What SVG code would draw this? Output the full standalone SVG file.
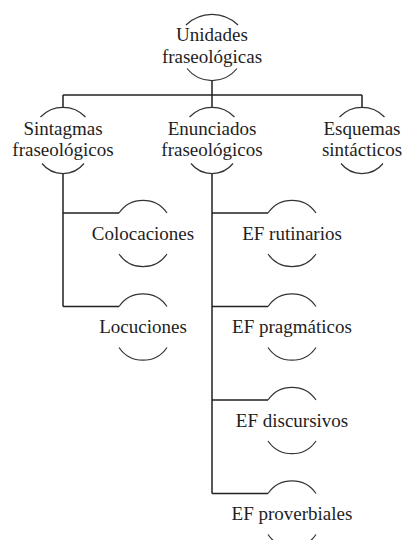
<svg xmlns="http://www.w3.org/2000/svg" width="403" height="540" viewBox="0 0 403 540">
<style>
.arc{fill:none;stroke:#333;stroke-width:1.2}
.ln{fill:none;stroke:#222;stroke-width:1.5}
text{font-family:"Liberation Serif","DejaVu Serif",serif;font-size:19px;fill:#1e1e1e;text-anchor:middle}
</style>
<rect width="403" height="540" fill="#fff"/>
<g id="connectors">
<path class="ln" d="M212 80.5V95M63 95H362M63 95V107.3M212 95V107.3M362 95V107.3"/>
<path class="ln" d="M63 173.5V306.5M63 213H119M63 306.5H119"/>
<path class="ln" d="M212 173.5V493.5M212 213H268M212 306.5H268M212 400H268M212 493.5H268"/>
</g>
<g id="n-unidades">
<path class="arc" d="M186 25A37 37 0 0 1 238 25M187 68.5A32 32 0 0 0 237 68.5"/>
<text x="212" y="41">Unidades</text><text x="212" y="62.7">fraseológicas</text>
</g>
<g id="n-sintagmas">
<path class="arc" d="M40.5 117A31 31 0 0 1 85.5 117M42 163.5A27 27 0 0 0 84 163.5"/>
<text x="63" y="134.5">Sintagmas</text><text x="63" y="156.2">fraseológicos</text>
</g>
<g id="n-enunciados">
<path class="arc" d="M189.5 117A31 31 0 0 1 234.5 117M191 163.5A27 27 0 0 0 233 163.5"/>
<text x="212" y="134.5">Enunciados</text><text x="212" y="156.2">fraseológicos</text>
</g>
<g id="n-esquemas">
<path class="arc" d="M339.5 117A31 31 0 0 1 384.5 117M341 163.5A27 27 0 0 0 383 163.5"/>
<text x="362" y="134.5">Esquemas</text><text x="362" y="156.2">sintácticos</text>
</g>
<g id="n-colocaciones">
<path class="arc" d="M119 213A29 29 0 0 1 167 213M119 254A29 29 0 0 0 167 254"/>
<text x="143" y="239.5">Colocaciones</text>
</g>
<g id="n-locuciones">
<path class="arc" d="M119 306.5A29 29 0 0 1 167 306.5M119 347.5A29 29 0 0 0 167 347.5"/>
<text x="143" y="333">Locuciones</text>
</g>
<g id="n-rutinarios">
<path class="arc" d="M268 213A29 29 0 0 1 316 213M268 254A29 29 0 0 0 316 254"/>
<text x="292" y="239.5">EF rutinarios</text>
</g>
<g id="n-pragmaticos">
<path class="arc" d="M268 306.5A29 29 0 0 1 316 306.5M268 347.5A29 29 0 0 0 316 347.5"/>
<text x="292" y="333">EF pragmáticos</text>
</g>
<g id="n-discursivos">
<path class="arc" d="M268 400A29 29 0 0 1 316 400M268 441A29 29 0 0 0 316 441"/>
<text x="292" y="426.5">EF discursivos</text>
</g>
<g id="n-proverbiales">
<path class="arc" d="M268 493.5A29 29 0 0 1 316 493.5M268 534.5A29 29 0 0 0 316 534.5"/>
<text x="292" y="520">EF proverbiales</text>
</g>
</svg>
